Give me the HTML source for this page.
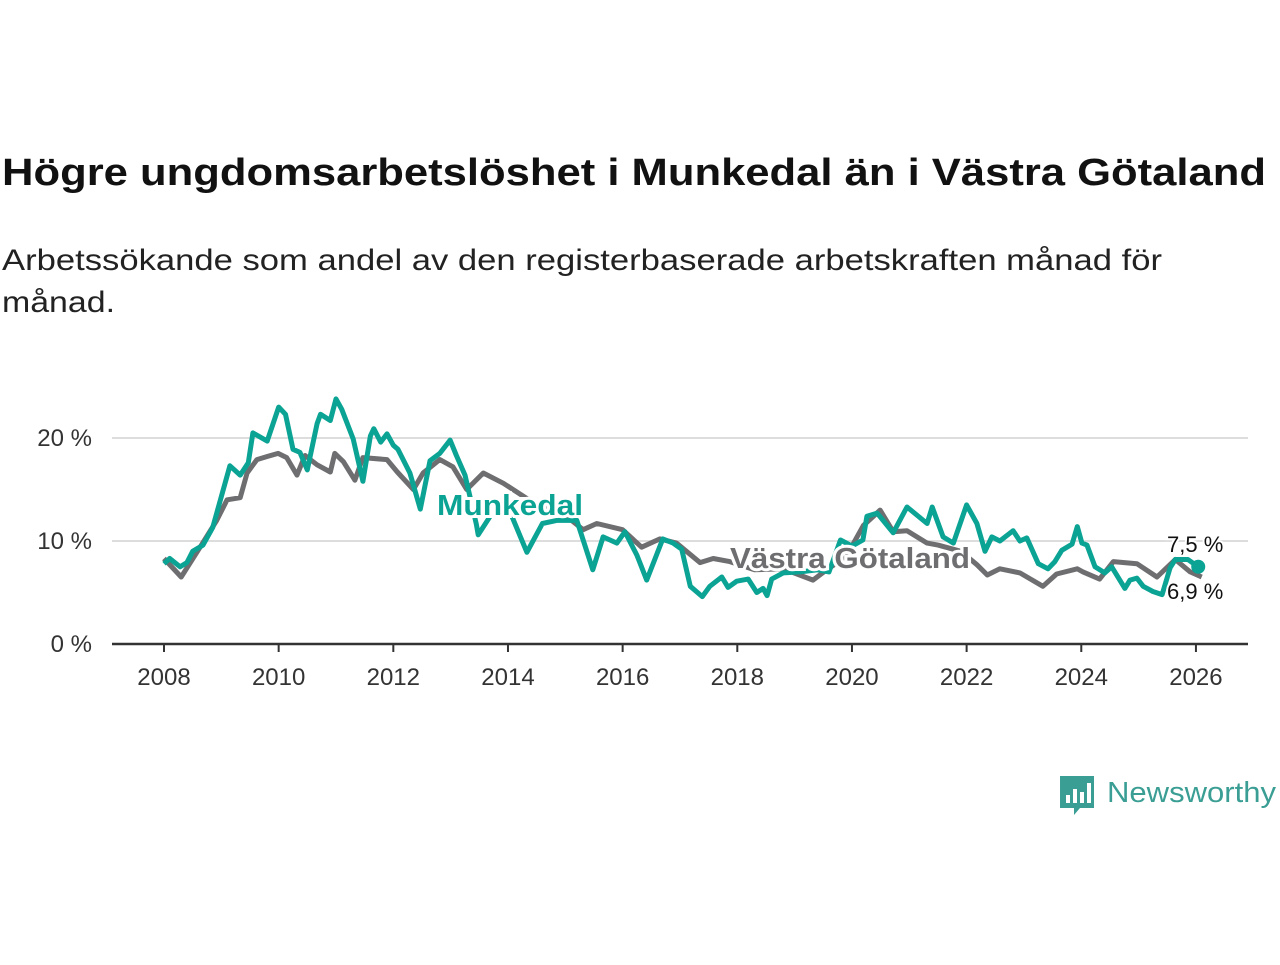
<!DOCTYPE html>
<html><head><meta charset="utf-8"><style>
body{margin:0;background:#fff;}
svg text{font-family:"Liberation Sans",sans-serif;}
</style></head><body>
<svg id="chart" width="1280" height="960" viewBox="0 0 1280 960" xmlns="http://www.w3.org/2000/svg">
<text x="2" y="185" font-size="38" font-weight="bold" fill="#111" textLength="1264" lengthAdjust="spacingAndGlyphs">Högre ungdomsarbetslöshet i Munkedal än i Västra Götaland</text>
<text x="2" y="270" font-size="30" fill="#222" textLength="1160" lengthAdjust="spacingAndGlyphs">Arbetssökande som andel av den registerbaserade arbetskraften månad för</text>
<text x="2" y="312" font-size="30" fill="#222" textLength="113" lengthAdjust="spacingAndGlyphs">månad.</text>
<g id="grid"></g><g id="lines"></g><g id="labels"></g>
<g>
<path d="M1060 776 h34 v32 h-14 l-6 7 v-7 h-14 z" fill="#3a9e94"/>
<rect x="1066" y="795" width="4" height="8" fill="#fff"/><rect x="1073" y="789" width="4" height="14" fill="#fff"/><rect x="1080" y="792" width="4" height="11" fill="#fff"/><rect x="1087" y="783" width="4" height="20" fill="#fff"/>
<text x="1107" y="802" font-size="29" fill="#3a9e94" textLength="169" lengthAdjust="spacingAndGlyphs">Newsworthy</text>
</g>
</svg>
<script>
const years=[2008,2010,2012,2014,2016,2018,2020,2022,2024,2026];
const yTicks=[0,10,20];
const munT=[2008.0,2008.1,2008.28,2008.4,2008.5,2008.68,2008.85,2009.15,2009.33,2009.47,2009.55,2009.8,2010.0,2010.12,2010.25,2010.37,2010.5,2010.67,2010.73,2010.9,2011.0,2011.1,2011.3,2011.47,2011.6,2011.66,2011.78,2011.89,2012.0,2012.08,2012.29,2012.47,2012.64,2012.81,2012.99,2013.1,2013.25,2013.45,2013.48,2013.7,2014.0,2014.33,2014.6,2014.85,2015.2,2015.48,2015.66,2015.9,2016.04,2016.25,2016.42,2016.7,2016.88,2017.03,2017.18,2017.39,2017.52,2017.73,2017.84,2017.99,2018.19,2018.34,2018.45,2018.52,2018.6,2018.8,2019.1,2019.4,2019.6,2019.8,2020.0,2020.19,2020.26,2020.44,2020.72,2020.96,2021.31,2021.4,2021.59,2021.77,2022.0,2022.18,2022.32,2022.44,2022.58,2022.81,2022.93,2023.05,2023.25,2023.42,2023.54,2023.66,2023.84,2023.93,2024.01,2024.1,2024.24,2024.41,2024.53,2024.76,2024.85,2024.97,2025.08,2025.25,2025.41,2025.55,2025.64,2025.86,2026.04];
const munV=[7.8,8.3,7.5,7.9,9.0,9.6,11.3,17.3,16.4,17.6,20.5,19.7,23.0,22.3,18.9,18.6,16.9,21.4,22.3,21.7,23.8,22.8,19.9,15.8,20.2,20.9,19.6,20.4,19.3,18.9,16.6,13.1,17.8,18.5,19.8,18.3,16.4,11.6,10.6,12.5,13.3,8.9,11.7,12.0,12.0,7.2,10.4,9.8,10.9,8.6,6.2,10.2,9.8,9.2,5.6,4.6,5.6,6.5,5.5,6.1,6.3,5.0,5.4,4.7,6.3,6.9,7.0,7.2,7.0,10.1,9.5,10.1,12.4,12.7,10.8,13.3,11.7,13.3,10.4,9.8,13.5,11.7,9.0,10.4,10.0,11.0,10.0,10.3,7.8,7.3,8.0,9.1,9.7,11.4,9.8,9.6,7.5,6.9,7.5,5.4,6.2,6.4,5.6,5.1,4.8,7.4,8.2,8.2,7.5];
const vgT=[2008.0,2008.3,2008.63,2008.92,2009.1,2009.33,2009.45,2009.62,2009.8,2009.99,2010.14,2010.32,2010.46,2010.67,2010.9,2010.98,2011.13,2011.33,2011.47,2011.89,2012.07,2012.35,2012.52,2012.81,2013.04,2013.28,2013.57,2013.92,2014.5,2015.0,2015.31,2015.55,2016.0,2016.33,2016.65,2016.94,2017.35,2017.58,2017.87,2018.3,2018.8,2019.32,2019.56,2019.9,2020.2,2020.49,2020.72,2020.96,2021.31,2021.5,2021.9,2022.18,2022.36,2022.58,2022.93,2023.33,2023.57,2023.93,2024.03,2024.32,2024.56,2024.97,2025.32,2025.64,2025.9,2026.1];
const vgV=[8.3,6.5,9.4,12.0,14.0,14.2,16.6,17.9,18.2,18.5,18.1,16.4,18.3,17.4,16.7,18.5,17.7,15.9,18.1,17.9,16.7,15.0,16.6,17.9,17.2,15.0,16.6,15.6,13.5,12.5,11.1,11.7,11.1,9.4,10.2,9.8,7.9,8.3,8.0,7.2,7.3,6.2,7.2,8.5,11.5,13.0,10.9,11.0,9.8,9.6,9.0,7.7,6.7,7.3,6.9,5.6,6.8,7.3,7.0,6.3,8.0,7.8,6.5,8.2,7.0,6.5];
const NS="http://www.w3.org/2000/svg";
const xS=t=>164+(t-2008)*57.33;
const yS=v=>644-v*10.3;
function mk(tag,attrs,parent){const e=document.createElementNS(NS,tag);for(const k in attrs)e.setAttribute(k,attrs[k]);parent.appendChild(e);return e;}
const grid=document.getElementById('grid'),lines=document.getElementById('lines'),labels=document.getElementById('labels');
yTicks.forEach(v=>{
 if(v>0){const g=mk('line',{x1:112,x2:1248,y1:yS(v),y2:yS(v),stroke:'#ddd','stroke-width':2},grid);
 
 }
 const t=mk('text',{x:92,y:yS(v)+8,'text-anchor':'end','font-size':24,fill:'#333'},grid);t.textContent=v+' %';
 
 
});
const ax=mk('line',{x1:112,x2:1248,y1:644,y2:644,stroke:'#333','stroke-width':2.5},grid);


years.forEach(y=>{
 const tk=mk('line',{x1:xS(y),x2:xS(y),y1:644,y2:652,stroke:'#333','stroke-width':2},grid);
 
 
 const t=mk('text',{x:xS(y),y:685,'text-anchor':'middle','font-size':24,fill:'#333'},grid);t.textContent=y;
 
 
});
function path(T,V){return T.map((t,i)=>(i?'L':'M')+xS(t).toFixed(1)+' '+yS(V[i]).toFixed(1)).join(' ');}
const vg=mk('path',{d:path(vgT,vgV),fill:'none',stroke:'#6e6d70','stroke-width':5,'stroke-linejoin':'round'},lines);


const mu=mk('path',{d:path(munT,munV),fill:'none',stroke:'#0aa394','stroke-width':5,'stroke-linejoin':'round'},lines);


const d1=mk('circle',{cx:xS(munT[munT.length-1]),cy:yS(munV[munV.length-1]),r:7,fill:'#0aa394'},lines);


function lab(txt,x,y,col,w,name){
 const t=mk('text',{x:x,y:y,'font-size':29,'font-weight':'bold',fill:col,stroke:'#fff','stroke-width':6,'paint-order':'stroke',textLength:w,lengthAdjust:'spacingAndGlyphs'},labels);t.textContent=txt;
 
 
}
lab('Munkedal',437,515,'#0aa394',146,'label-munkedal');
lab('Västra Götaland',730,568,'#6e6d70',240,'label-vastra-gotaland');
const e1=mk('text',{x:1167,y:552,'font-size':22,fill:'#111',stroke:'#fff','stroke-width':4,'paint-order':'stroke'},labels);e1.textContent='7,5 %';


const e2=mk('text',{x:1167,y:599,'font-size':22,fill:'#111',stroke:'#fff','stroke-width':4,'paint-order':'stroke'},labels);e2.textContent='6,9 %';


</script>
</body></html>
